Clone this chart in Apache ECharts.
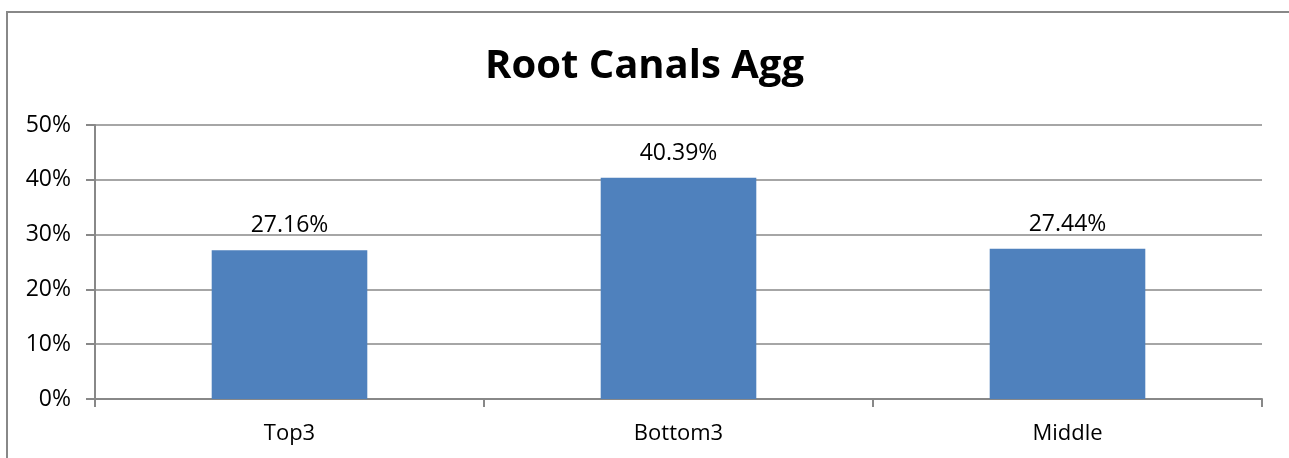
<!DOCTYPE html>
<html>
<head>
<meta charset="utf-8">
<script src="https://cdn.jsdelivr.net/npm/echarts@6/dist/echarts.min.js"></script>
<style>
  html, body { margin: 0; padding: 0; background: #fff; }
  #chart { width: 1289px; height: 458px; }
</style>
</head>
<body>
<div id="chart"></div>
<script>
// Share of root canals per group
const categories = ['Top3', 'Bottom3', 'Middle'];
const values = [27.16, 40.39, 27.44];
const yTicks = { min: 0, max: 50, interval: 10 };

const FONT = '"Open Sans", "Liberation Sans", Arial, sans-serif';
const chart = echarts.init(document.getElementById('chart'));

chart.setOption({
  animation: false,
  backgroundColor: '#fff',
  title: {
    text: 'Root Canals Agg',
    left: 'center',
    top: 42,
    textStyle: { fontFamily: FONT, fontSize: 40, fontWeight: 'bold', color: '#000' }
  },
  graphic: [{
    type: 'rect',
    shape: { x: 7, y: 12, width: 1320, height: 500 },
    style: { fill: 'none', stroke: '#888', lineWidth: 2 },
    silent: true
  }],
  grid: { left: 95, right: 27, top: 125, bottom: 59 },
  xAxis: {
    type: 'category',
    data: categories,
    boundaryGap: true,
    axisLine: { lineStyle: { color: '#888', width: 2 } },
    axisTick: { show: true, length: 8, alignWithLabel: false, lineStyle: { color: '#888', width: 2 } },
    axisLabel: { fontFamily: FONT, fontSize: 22, color: '#000', margin: 24 }
  },
  yAxis: {
    type: 'value',
    min: yTicks.min,
    max: yTicks.max,
    interval: yTicks.interval,
    axisLine: { show: true, lineStyle: { color: '#888', width: 2 } },
    axisTick: { show: true, length: 9, lineStyle: { color: '#888', width: 2 } },
    splitLine: { show: true, lineStyle: { color: '#888', width: 1.5 } },
    axisLabel: {
      fontFamily: FONT, fontSize: 23, color: '#000', margin: 24,
      formatter: v => v + '%'
    }
  },
  series: [{
    type: 'bar',
    data: values,
    barWidth: '40%',
    itemStyle: { color: '#4F81BD' },
    label: {
      show: true,
      position: 'top',
      distance: 13,
      fontFamily: FONT,
      fontSize: 23,
      color: '#000',
      formatter: p => p.value.toFixed(2) + '%'
    }
  }]
});
</script>
</body>
</html>
